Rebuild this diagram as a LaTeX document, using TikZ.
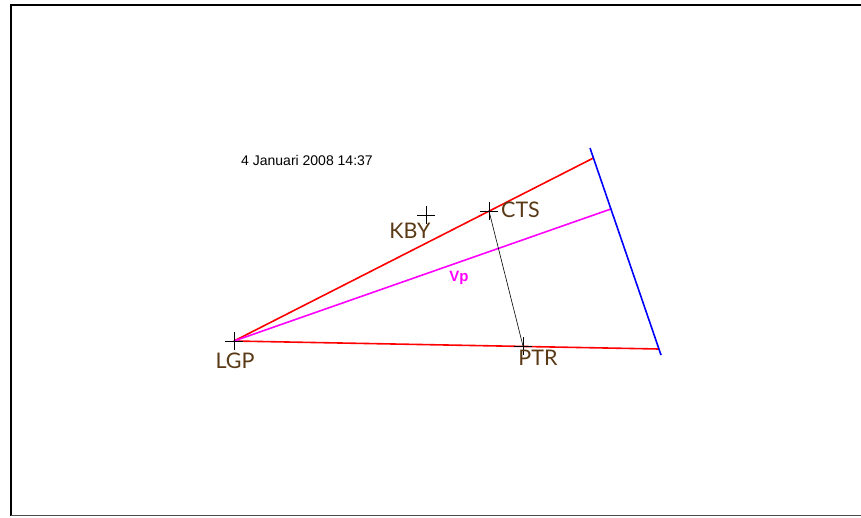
\documentclass[tikz,border=0pt]{standalone}
\usepackage{fontspec}
\setmainfont{Liberation Sans}
\newfontfamily\stafont{Lato}
\usepackage{tikz}
\usetikzlibrary{positioning}

\definecolor{stabrown}{RGB}{90,58,22}
\definecolor{vpmag}{RGB}{255,0,255}

\begin{document}
\begin{tikzpicture}[
  x=1pt, y=-1pt,
  every node/.style={inner sep=0pt},
  sta/.style={font=\stafont\fontsize{21.5}{23}\selectfont, text=stabrown},
  leg/.style={red, line width=1.6pt},
  vp/.style={vpmag, line width=1.6pt},
  front/.style={blue, line width=1.6pt},
  cross/.style={black, line width=0.6pt}
]
  \useasboundingbox (0,0) rectangle (861,517);
  % frame
  \draw[line width=2pt] (861,5) -- (11,5) -- (11,516);
  \draw[line width=1pt, black!70] (11,515.5) -- (861,515.5);

  % stations
  \coordinate (lgp) at (234,341);
  \coordinate (kby) at (426,215);
  \coordinate (cts) at (489,211);
  \coordinate (ptr) at (523,346);
  % ends on the front
  \coordinate (fa) at (590,148);
  \coordinate (fb) at (661,355);
  \coordinate (ea) at (593.4,158);
  \coordinate (ev) at (610.9,209);
  \coordinate (eb) at (658.9,349);

  \node[font=\fontsize{14}{15}\selectfont, anchor=west] (date) at (241,160)
    {4 Januari 2008 14:37};

  \draw[leg] (lgp) -- (ea);
  \draw[leg] (lgp) -- (eb);
  \draw[vp] (lgp) -- (ev);
  \draw[front] (fa) -- (fb);
  \draw[black, line width=0.6pt] (cts) -- (ptr);

  \foreach \p in {lgp,kby,cts,ptr}
    \draw[cross] ([xshift=-9pt]\p) -- ([xshift=9pt]\p)
                 ([yshift=-9pt]\p) -- ([yshift=9pt]\p);

  \node[sta] (lgplab) at (235,361) {LGP};
  \node[sta] (kbylab) at (410,231) {KBY};
  \node[sta, anchor=west] (ctslab) at (501,210) {CTS};
  \node[sta] (ptrlab) at (538,358) {PTR};
  \node[font=\bfseries\fontsize{15}{16}\selectfont, text=vpmag] (vplab)
    at (459,278) {Vp};
\end{tikzpicture}
\end{document}
